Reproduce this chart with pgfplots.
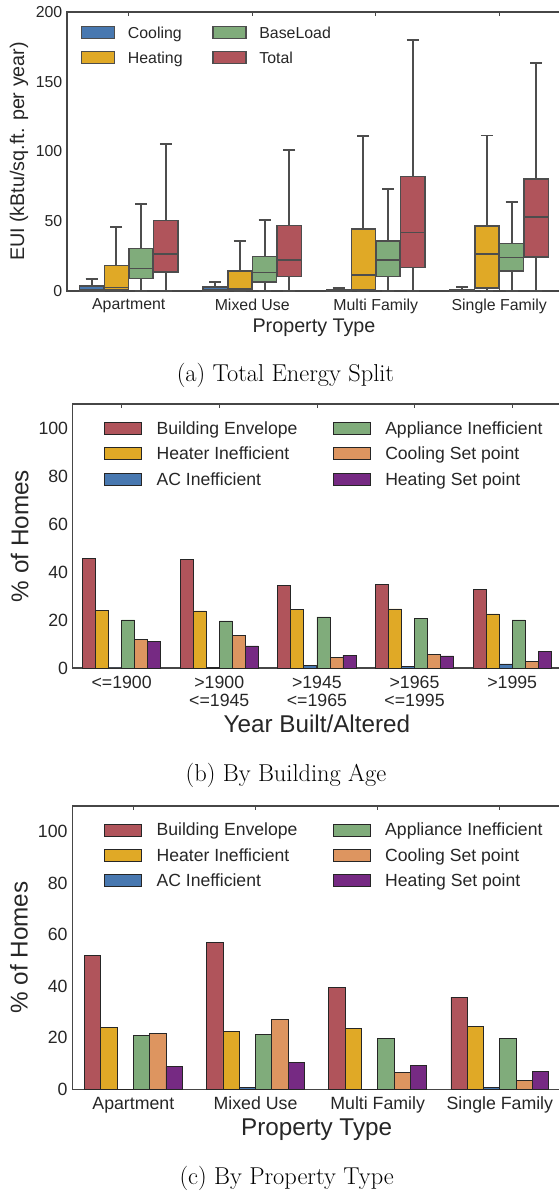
\documentclass[border=0pt]{standalone}
\usepackage{pgfplots}
\pgfplotsset{compat=1.18}
\usepgfplotslibrary{statistics}
\usepackage{fontspec}
\newfontfamily\cf{Liberation Sans}

\definecolor{cred}{RGB}{176,84,91}
\definecolor{cgold}{RGB}{224,169,38}
\definecolor{cblue}{RGB}{72,120,176}
\definecolor{cgreen}{RGB}{128,172,123}
\definecolor{corange}{RGB}{221,149,96}
\definecolor{cpurple}{RGB}{118,42,131}
\definecolor{boxgray}{RGB}{77,77,77}
\definecolor{axisgray}{RGB}{70,70,70}
\definecolor{textgray}{RGB}{38,38,38}

\pgfplotsset{
  base/.style={
    scale only axis, anchor=south west,
    xmin=-0.5, xmax=3.5, ymin=0,
    axis line style={draw=axisgray, line width=0.9pt},
    tick align=inside,
    major tick length=3pt,
    xtick style={draw=axisgray, line width=0.6pt},
    ytick style={draw=none},
    /pgf/number format/assume math mode=true,
    tick label style={text=textgray},
    xticklabel style={yshift=-2.25pt},
    clip=false,
  },
  mybox/.style={boxplot/draw direction=y, draw=boxgray, line width=1.15pt, forget plot, solid,
    boxplot/every whisker/.style={draw=boxgray, line width=1.4pt},
    boxplot/every median/.style={draw=boxgray, line width=1.15pt},
    boxplot/every box/.style={draw=boxgray, line width=1.15pt}},
  mybar/.style={ybar, bar width=0.1333, draw=black!85, line width=0.6pt, forget plot},
}

\begin{document}
\begin{tikzpicture}

%================ (a) ================
\begin{axis}[base,
  at={(50.25pt,677.25pt)}, width=370.5pt, height=209.25pt,
  ymax=200, ytick={0,50,100,150,200},
  xtick={0,1,2,3},
  xticklabels={Apartment,Mixed Use,Multi Family,Single Family},
  tick label style={font=\cf\fontsize{11.9}{14}\selectfont},
  xlabel={Property Type},
  ylabel={EUI (kBtu/sq.ft. per year)},
  every axis x label/.style={at={(rel axis cs:0.5,0)}, anchor=base, yshift=-31.5pt, font=\cf\fontsize{14.8}{17}\selectfont, text=textgray},
  every axis y label/.style={at={(rel axis cs:-0.0972,0.5)}, rotate=90, anchor=center, font=\cf\fontsize{14.8}{17}\selectfont, text=textgray},
  legend image code/.code={\draw[#1] (0pt,-4.5pt) rectangle (24.75pt,4.5pt);},
  legend columns=2,
  legend style={at={(rel axis cs:0.0283,0.95)}, anchor=north west, draw=none, fill=none,
    inner sep=0pt, outer sep=0pt,
    font=\cf\fontsize{11.9}{14}\selectfont, text=textgray,
    row sep=8.6pt,
    nodes={inner xsep=0pt, inner ysep=0pt, text height=8.5pt, text depth=0pt},
    /tikz/every odd column/.append style={column sep=9.45pt},
    /tikz/every even column/.append style={column sep=22.4pt}},
  legend cell align=left,
]
\addlegendimage{fill=cblue, draw=boxgray, line width=1pt}
\addlegendentry{Cooling}
\addlegendimage{fill=cgreen, draw=boxgray, line width=1pt}
\addlegendentry{BaseLoad}
\addlegendimage{fill=cgold, draw=boxgray, line width=1pt}
\addlegendentry{Heating}
\addlegendimage{fill=cred, draw=boxgray, line width=1pt}
\addlegendentry{Total}

% Apartment
\addplot[mybox, fill=cblue, boxplot prepared={draw position=-0.3, lower whisker=0, lower quartile=0, median=0.8, upper quartile=3.6, upper whisker=8.8, box extend=0.196, whisker extend=0.098}] coordinates {};
\addplot[mybox, fill=cgold, boxplot prepared={draw position=-0.1, lower whisker=0, lower quartile=0.7, median=2.4, upper quartile=18.4, upper whisker=45.8, box extend=0.196, whisker extend=0.098}] coordinates {};
\addplot[mybox, fill=cgreen, boxplot prepared={draw position=0.1, lower whisker=0, lower quartile=9.1, median=16.2, upper quartile=30.3, upper whisker=62.3, box extend=0.196, whisker extend=0.098}] coordinates {};
\addplot[mybox, fill=cred, boxplot prepared={draw position=0.3, lower whisker=0, lower quartile=13.6, median=26.5, upper quartile=50.6, upper whisker=105.3, box extend=0.196, whisker extend=0.098}] coordinates {};
% Mixed Use
\addplot[mybox, fill=cblue, boxplot prepared={draw position=0.7, lower whisker=0, lower quartile=0, median=0.6, upper quartile=2.9, upper whisker=6.7, box extend=0.196, whisker extend=0.098}] coordinates {};
\addplot[mybox, fill=cgold, boxplot prepared={draw position=0.9, lower whisker=0, lower quartile=0.5, median=1.4, upper quartile=14.3, upper whisker=36.0, box extend=0.196, whisker extend=0.098}] coordinates {};
\addplot[mybox, fill=cgreen, boxplot prepared={draw position=1.1, lower whisker=0, lower quartile=6.4, median=13.4, upper quartile=24.8, upper whisker=50.8, box extend=0.196, whisker extend=0.098}] coordinates {};
\addplot[mybox, fill=cred, boxplot prepared={draw position=1.3, lower whisker=0, lower quartile=10.3, median=22.4, upper quartile=46.8, upper whisker=101.0, box extend=0.196, whisker extend=0.098}] coordinates {};
% Multi Family
\addplot[mybox, fill=cblue, boxplot prepared={draw position=1.7, lower whisker=0, lower quartile=0, median=0.2, upper quartile=0.7, upper whisker=1.9, box extend=0.196, whisker extend=0.098}] coordinates {};
\addplot[mybox, fill=cgold, boxplot prepared={draw position=1.9, lower whisker=0, lower quartile=0.7, median=11.5, upper quartile=44.6, upper whisker=111.0, box extend=0.196, whisker extend=0.098}] coordinates {};
\addplot[mybox, fill=cgreen, boxplot prepared={draw position=2.1, lower whisker=0, lower quartile=10.5, median=22.4, upper quartile=35.8, upper whisker=73.3, box extend=0.196, whisker extend=0.098}] coordinates {};
\addplot[mybox, fill=cred, boxplot prepared={draw position=2.3, lower whisker=0, lower quartile=16.9, median=41.8, upper quartile=82.1, upper whisker=180.0, box extend=0.196, whisker extend=0.098}] coordinates {};
% Single Family
\addplot[mybox, fill=cblue, boxplot prepared={draw position=2.7, lower whisker=0, lower quartile=0, median=0.3, upper quartile=1.0, upper whisker=2.6, box extend=0.196, whisker extend=0.098}] coordinates {};
\addplot[mybox, fill=cgold, boxplot prepared={draw position=2.9, lower whisker=0, lower quartile=2.1, median=26.4, upper quartile=46.5, upper whisker=111.5, box extend=0.196, whisker extend=0.098}] coordinates {};
\addplot[mybox, fill=cgreen, boxplot prepared={draw position=3.1, lower whisker=0, lower quartile=14.3, median=23.9, upper quartile=33.9, upper whisker=63.7, box extend=0.196, whisker extend=0.098}] coordinates {};
\addplot[mybox, fill=cred, boxplot prepared={draw position=3.3, lower whisker=0, lower quartile=24.3, median=53.0, upper quartile=80.2, upper whisker=163.5, box extend=0.196, whisker extend=0.098}] coordinates {};
\end{axis}
\node[font=\fontsize{18.3}{20}\selectfont, anchor=base] at (214.1pt,609pt) {(a) Total Energy Split};

%================ (b) ================
\begin{axis}[base,
  at={(54.6pt,394.5pt)}, width=366.15pt, height=198pt,
  xmax=4.5,
  ymax=110, ytick={0,20,40,60,80,100},
  xtick={0,1,2,3,4},
  xticklabels={{<=1900},{>1900\\<=1945},{>1945\\<=1965},{>1965\\<=1995},{>1995}},
  xticklabel style={align=center},
  tick label style={font=\cf\fontsize{13.3}{13.8}\selectfont},
  xlabel={Year Built/Altered},
  ylabel={\% of Homes},
  every axis x label/.style={at={(rel axis cs:0.5,0)}, anchor=base, yshift=-48.75pt, font=\cf\fontsize{18.2}{20}\selectfont, text=textgray},
  every axis y label/.style={at={(rel axis cs:-0.109,0.5)}, rotate=90, anchor=center, font=\cf\fontsize{18.2}{20}\selectfont, text=textgray},
  legend image code/.code={\draw[#1] (0pt,-4.5pt) rectangle (27.4pt,4.5pt);},
  legend columns=2,
  legend style={at={(rel axis cs:0.0649,0.933)}, anchor=north west, draw=none, fill=none,
    inner sep=0pt, outer sep=0pt,
    font=\cf\fontsize{13.2}{15}\selectfont, text=textgray,
    row sep=9.1pt,
    nodes={inner xsep=0pt, inner ysep=0pt, text height=9.5pt, text depth=0.5pt},
    /tikz/every odd column/.append style={column sep=11.1pt},
    /tikz/every even column/.append style={column sep=26.7pt}},
  legend cell align=left,
]
\addlegendimage{fill=cred, draw=black!85, line width=0.6pt}
\addlegendentry{Building Envelope}
\addlegendimage{fill=cgreen, draw=black!85, line width=0.6pt}
\addlegendentry{Appliance Inefficient}
\addlegendimage{fill=cgold, draw=black!85, line width=0.6pt}
\addlegendentry{Heater Inefficient}
\addlegendimage{fill=corange, draw=black!85, line width=0.6pt}
\addlegendentry{Cooling Set point}
\addlegendimage{fill=cblue, draw=black!85, line width=0.6pt}
\addlegendentry{AC Inefficient}
\addlegendimage{fill=cpurple, draw=black!85, line width=0.6pt}
\addlegendentry{Heating Set point}

\addplot[mybar, bar shift=-0.3333, fill=cred]    coordinates {(0,45.7) (1,45.4) (2,34.4) (3,34.9) (4,32.9)};
\addplot[mybar, bar shift=-0.2,    fill=cgold]   coordinates {(0,23.9) (1,23.75) (2,24.4) (3,24.6) (4,22.5)};
\addplot[mybar, bar shift=-0.0667, fill=cblue]   coordinates {(0,0) (1,0.4) (2,1.0) (3,0.8) (4,1.7)};
\addplot[mybar, bar shift=0.0667,  fill=cgreen]  coordinates {(0,20.0) (1,19.6) (2,21.25) (3,20.8) (4,20.0)};
\addplot[mybar, bar shift=0.2,     fill=corange] coordinates {(0,11.8) (1,13.5) (2,4.3) (3,5.8) (4,2.9)};
\addplot[mybar, bar shift=0.3333,  fill=cpurple] coordinates {(0,11.1) (1,9.2) (2,5.3) (3,5.0) (4,6.8)};
\end{axis}
\node[font=\fontsize{18.3}{20}\selectfont, anchor=base] at (214.5pt,309.2pt) {(b) By Building Age};

%================ (c) ================
\begin{axis}[base,
  at={(54.2pt,78.5pt)}, width=366.5pt, height=212.5pt,
  ymax=110, ytick={0,20,40,60,80,100},
  xtick={0,1,2,3},
  xticklabels={Apartment,Mixed Use,Multi Family,Single Family},
  tick label style={font=\cf\fontsize{13.3}{13.8}\selectfont},
  xlabel={Property Type},
  ylabel={\% of Homes},
  every axis x label/.style={at={(rel axis cs:0.5,0)}, anchor=base, yshift=-34.3pt, font=\cf\fontsize{18.2}{20}\selectfont, text=textgray},
  every axis y label/.style={at={(rel axis cs:-0.109,0.5)}, rotate=90, anchor=center, font=\cf\fontsize{18.2}{20}\selectfont, text=textgray},
  legend image code/.code={\draw[#1] (0pt,-4.5pt) rectangle (27.4pt,4.5pt);},
  legend columns=2,
  legend style={at={(rel axis cs:0.0659,0.939)}, anchor=north west, draw=none, fill=none,
    inner sep=0pt, outer sep=0pt,
    font=\cf\fontsize{13.2}{15}\selectfont, text=textgray,
    row sep=9.1pt,
    nodes={inner xsep=0pt, inner ysep=0pt, text height=9.5pt, text depth=0.5pt},
    /tikz/every odd column/.append style={column sep=11.1pt},
    /tikz/every even column/.append style={column sep=26.7pt}},
  legend cell align=left,
]
\addlegendimage{fill=cred, draw=black!85, line width=0.6pt}
\addlegendentry{Building Envelope}
\addlegendimage{fill=cgreen, draw=black!85, line width=0.6pt}
\addlegendentry{Appliance Inefficient}
\addlegendimage{fill=cgold, draw=black!85, line width=0.6pt}
\addlegendentry{Heater Inefficient}
\addlegendimage{fill=corange, draw=black!85, line width=0.6pt}
\addlegendentry{Cooling Set point}
\addlegendimage{fill=cblue, draw=black!85, line width=0.6pt}
\addlegendentry{AC Inefficient}
\addlegendimage{fill=cpurple, draw=black!85, line width=0.6pt}
\addlegendentry{Heating Set point}

\addplot[mybar, bar shift=-0.3333, fill=cred]    coordinates {(0,52.1) (1,57.1) (2,39.6) (3,35.8)};
\addplot[mybar, bar shift=-0.2,    fill=cgold]   coordinates {(0,24.1) (1,22.3) (2,23.8) (3,24.4)};
\addplot[mybar, bar shift=-0.0667, fill=cblue]   coordinates {(0,0) (1,0.6) (2,0.1) (3,0.9)};
\addplot[mybar, bar shift=0.0667,  fill=cgreen]  coordinates {(0,20.9) (1,21.4) (2,19.8) (3,19.8)};
\addplot[mybar, bar shift=0.2,     fill=corange] coordinates {(0,21.8) (1,27.3) (2,6.7) (3,3.6)};
\addplot[mybar, bar shift=0.3333,  fill=cpurple] coordinates {(0,8.9) (1,10.5) (2,9.2) (3,7.0)};
\end{axis}
\node[font=\fontsize{18.3}{20}\selectfont, anchor=base] at (215pt,6.75pt) {(c) By Property Type};

\pgfresetboundingbox
\path[use as bounding box] (0,0) rectangle (419.25pt,895.5pt);
\end{tikzpicture}
\end{document}
